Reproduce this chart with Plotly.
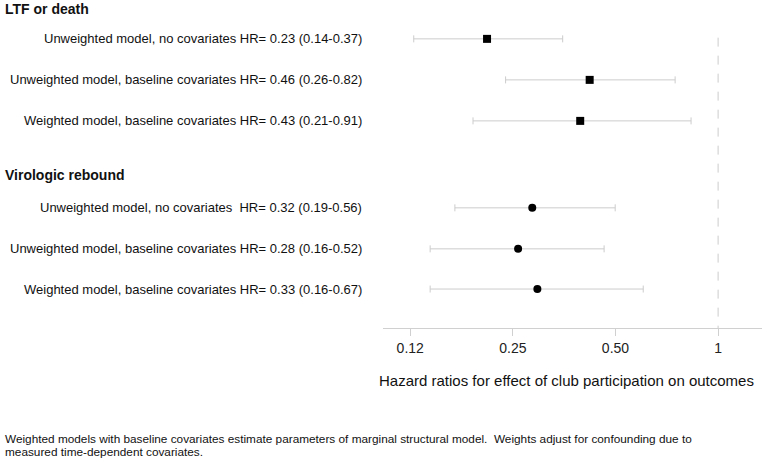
import plotly.graph_objects as go
import math

# ---- data ----
groups = ["LTF or death", "Virologic rebound"]
labels = [
    "Unweighted model, no covariates HR= 0.23 (0.14-0.37)",
    "Unweighted model, baseline covariates HR= 0.46 (0.26-0.82)",
    "Weighted model, baseline covariates HR= 0.43 (0.21-0.91)",
    "Unweighted model, no covariates  HR= 0.32 (0.19-0.56)",
    "Unweighted model, baseline covariates HR= 0.28 (0.16-0.52)",
    "Weighted model, baseline covariates HR= 0.33 (0.16-0.67)",
]
group_of = [0, 0, 0, 1, 1, 1]
hr = [0.21, 0.42, 0.394, 0.285, 0.259, 0.295]
lo = [0.128, 0.238, 0.191, 0.169, 0.143, 0.143]
hi = [0.35, 0.748, 0.833, 0.499, 0.463, 0.603]
tick_vals = [0.125, 0.25, 0.5, 1]
tick_text = ["0.12", "0.25", "0.50", "1"]
x_title = "Hazard ratios for effect of club participation on outcomes"
footnote_lines = [
    "Weighted models with baseline covariates estimate parameters of marginal structural model.  "
    "Weights adjust for confounding due to",
    "measured time-dependent covariates.",
]

# ---- layout positions (rows) ----
row_pos = [0, 1, 2, 4.12, 5.12, 6.1]
header_pos = [-0.73, 3.32]
y_range = [7.05, -0.46]
footnote_y = [-0.362, -0.401]

def to_paper(p):
    return (y_range[0] - p) / (y_range[0] - y_range[1])

FONT = "Liberation Sans, Arial, sans-serif"
fig = go.Figure()
symbols = ["square", "circle"]
for g in range(2):
    idx = [i for i in range(6) if group_of[i] == g]
    fig.add_trace(go.Scatter(
        x=[hr[i] for i in idx],
        y=[row_pos[i] for i in idx],
        mode="markers",
        marker=dict(symbol=symbols[g], size=8, color="black"),
        error_x=dict(type="data", symmetric=False,
                     array=[hi[i] - hr[i] for i in idx],
                     arrayminus=[hr[i] - lo[i] for i in idx],
                     color="#cccccc", thickness=1, width=3.5),
        showlegend=False, hoverinfo="skip",
    ))

fig.add_shape(type="line", xref="x", yref="y", x0=1, x1=1, y0=-0.03, y1=y_range[0],
              line=dict(color="#cccccc", width=1, dash="dash"), layer="below")

for i, lab in enumerate(labels):
    fig.add_annotation(text=lab, xref="paper", yref="y", x=-0.05, y=row_pos[i],
                       xanchor="right", yanchor="middle", showarrow=False,
                       font=dict(family=FONT, size=13, color="#111111"))
for g, name in enumerate(groups):
    fig.add_annotation(text="<b>" + name + "</b>", xref="paper", yref="paper", x=-1.0026,
                       y=to_paper(header_pos[g]),
                       xanchor="left", yanchor="middle", showarrow=False,
                       font=dict(family=FONT, size=14, color="#111111"))

fig.add_annotation(text=x_title, xref="paper", yref="paper", x=0.485, y=-0.169,
                   xanchor="center", yanchor="middle", showarrow=False,
                   font=dict(family=FONT, size=15, color="#111111"))
for k, line in enumerate(footnote_lines):
    fig.add_annotation(text=line, xref="paper", yref="paper", x=-1.0026, y=footnote_y[k],
                       xanchor="left", yanchor="middle", showarrow=False, align="left",
                       font=dict(family=FONT, size=11.8, color="#111111"))

fig.update_layout(
    width=765, height=462,
    margin=dict(l=383, r=3, t=20, b=134),
    plot_bgcolor="white", paper_bgcolor="white",
    xaxis=dict(type="log", range=[math.log10(0.104), math.log10(1.345)],
               tickvals=tick_vals, ticktext=tick_text,
               showgrid=False, zeroline=False,
               showline=True, linecolor="#d0d0d0", linewidth=1,
               ticks="outside", ticklen=7, tickcolor="#d0d0d0",
               tickfont=dict(family=FONT, size=14, color="#222222")),
    yaxis=dict(range=y_range, visible=False, showgrid=False, zeroline=False),
)

# remove the default 8px page margin so the figure sits at the window's corner
fig.write_html("out.html", config={"displayModeBar": False},
               post_script="document.body.style.margin='0';")
